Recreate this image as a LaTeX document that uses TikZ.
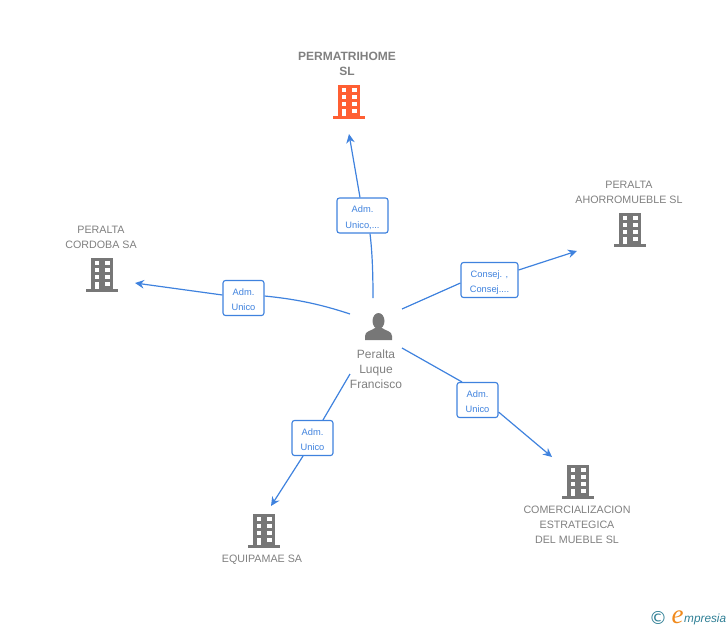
\documentclass[tikz,border=0pt]{standalone}
\usepackage{xcolor}
\usepackage{fontspec}
\setmainfont{Liberation Sans}
\newfontfamily\logofont{Liberation Serif}
\newfontfamily\symbolfont{DejaVu Sans}
\usetikzlibrary{positioning}
\usetikzlibrary{arrows.meta}
\definecolor{linkblue}{HTML}{3F82DE}
\definecolor{iconorange}{HTML}{FF5F33}
\definecolor{icongray}{HTML}{777777}
\definecolor{textgray}{HTML}{808080}
\definecolor{logoteal}{HTML}{2F7F95}
\definecolor{logoorange}{HTML}{F08A1D}
\tikzset{
    company/.style={text=textgray, align=center, inner sep=0pt, font=\fontsize{10.7}{15}\selectfont},
    person/.style={text=textgray, align=center, inner sep=0pt, font=\fontsize{12}{15}\selectfont},
    role/.style={draw=linkblue, fill=white, rounded corners=2.5pt, line width=1.1pt, text=linkblue,
        align=center, inner sep=0pt, minimum height=35pt, text height=27pt, text depth=2pt,
        font=\fontsize{9.3}{15.5}\selectfont},
    link/.style={draw=linkblue, line width=1.2pt},
    arrowlink/.style={link, -{Stealth[length=9pt,width=8.5pt]}},
    pics/building/.style={code={
        \fill[#1] (-11,-17) rectangle (11,14);
        \fill[#1] (-16,14) rectangle (16,16.5);
        \foreach \row in {-14,-7,0} {
            \fill[white] (-7.5,\row) rectangle (-3,\row+4.3);
            \fill[white] (3,\row) rectangle (7.5,\row+4.3);
        }
        \fill[white] (3,7) rectangle (7.5,11.3);
        \fill[white] (-7.5,7) rectangle (-3,14);
    }}
}
\begin{document}
\begin{tikzpicture}[x=1pt,y=-1pt]
    \useasboundingbox (0,0) rectangle (728,630);

    % companies
    \node[company, font=\fontsize{12}{15}\selectfont\bfseries] (permatrihome) at (347,64) {PERMATRIHOME\\SL};
    \pic (bldtop) at (349,102) {building=iconorange};
    \node[company] (ahorromueble) at (629,192) {PERALTA\\AHORROMUEBLE SL};
    \pic (bldright) at (630,230) {building=icongray};
    \node[company] (cordoba) at (101,237) {PERALTA\\CORDOBA SA};
    \pic (bldleft) at (102,275) {building=icongray};
    \node[company] (equipamae) at (262,560) {EQUIPAMAE SA};
    \pic (bldbottom) at (264,531) {building=icongray};
    \node[company] (comercializacion) at (577,525) {COMERCIALIZACION\\ESTRATEGICA\\DEL MUEBLE SL};
    \pic (bldcomer) at (578,482) {building=icongray};

    % person
    \fill[icongray] (378.5,321) ellipse (6 and 8);
    \fill[icongray] (365,340) -- (365,336) .. controls (365,331) and (371,331) .. (375,328)
        -- (382,328) .. controls (386,331) and (392,331) .. (392,336) -- (392,340) -- cycle;
    \node[person] (peralta) at (376,369) {Peralta\\Luque\\Francisco};

    % roles
    \node[role, minimum width=51pt] (roletop) at (362.5,215.5) {Adm.\\Unico,...};
    \node[role, minimum width=57pt] (roleright) at (489.5,280) {Consej. ,\\Consej....};
    \node[role, minimum width=41pt] (roleleft) at (243.5,298) {Adm.\\Unico};
    \node[role, minimum width=41pt] (rolebottom) at (312.5,438) {Adm.\\Unico};
    \node[role, minimum width=41pt] (rolecomer) at (477.5,400) {Adm.\\Unico};

    % free ends
    \coordinate (fromtop) at (373,298);
    \coordinate (fromright) at (402,309);
    \coordinate (fromleft) at (350,314);
    \coordinate (frombottom) at (350,374);
    \coordinate (fromcomer) at (402,348);
    \coordinate (totop) at (349,134);
    \coordinate (toright) at (577,251);
    \coordinate (toleft) at (135,283);
    \coordinate (tobottom) at (271,506);
    \coordinate (tocomer) at (552,457);

    % connectors
    \draw[link] (fromtop) .. controls (373,270) and (372,250) .. (roletop.south -| 370,0);
    \draw[arrowlink] (roletop.north -| 360,0) -- (totop);
    \draw[link] (fromright) -- (roleright.west |- 0,283);
    \draw[arrowlink] (roleright.east |- 0,270) -- (toright);
    \draw[link] (fromleft) .. controls (320,304) and (295,299) .. (roleleft.east |- 0,296);
    \draw[arrowlink] (roleleft.west |- 0,295) -- (toleft);
    \draw[link] (frombottom) -- (rolebottom.north -| 323,0);
    \draw[arrowlink] (rolebottom.south -| 303,0) -- (tobottom);
    \draw[link] (fromcomer) -- (rolecomer.north -| 462,0);
    \draw[arrowlink] (rolecomer.east |- 0,412) -- (tocomer);

    % logo
    \node[text=logoteal, inner sep=0pt, font=\symbolfont\fontsize{18}{18}\selectfont] (copyright) at (658,618) {©};
    \node[text=logoorange, inner sep=0pt, font=\logofont\itshape\fontsize{27}{27}\selectfont] (logoe) at (677.5,617) {e};
    \node[text=logoteal, inner sep=0pt, font=\itshape\fontsize{11.8}{12}\selectfont, anchor=west] (logotext) at (684,619) {mpresia};
\end{tikzpicture}
\end{document}
